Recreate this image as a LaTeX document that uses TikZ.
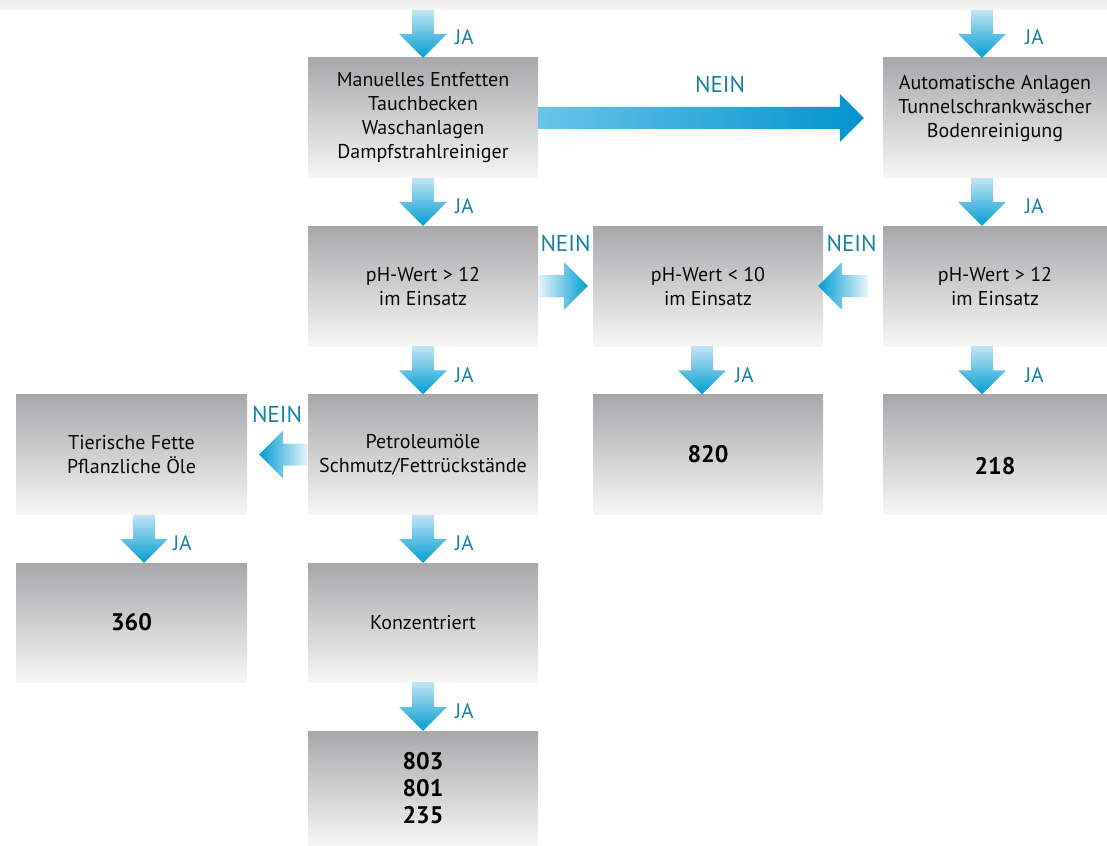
\documentclass[tikz,border=0pt]{standalone}
\usepackage{fontspec}
\setmainfont{PT Sans}
\usetikzlibrary{calc}
\definecolor{boxtop}{RGB}{168,168,171}
\definecolor{boxbot}{RGB}{246,246,246}
\definecolor{labcol}{RGB}{22,128,162}
\definecolor{arrblue}{RGB}{0,157,210}
\definecolor{arrmid}{RGB}{70,185,228}
\definecolor{arrtail}{RGB}{232,245,251}
\definecolor{arrtop}{RGB}{195,228,245}
\definecolor{bigleft}{RGB}{105,196,232}
\definecolor{bigright}{RGB}{0,148,204}
\definecolor{bandtop}{RGB}{238,238,238}
\definecolor{bandbot}{RGB}{247,247,247}
\definecolor{txt}{RGB}{10,10,10}
\tikzset{
  box/.style={rectangle, inner sep=0pt, minimum width=230pt, minimum height=120pt,
    top color=boxtop, bottom color=boxbot, align=center, text=txt,
    font=\fontsize{20}{24}\selectfont},
  numbox/.style={font=\bfseries\fontsize{24}{27}\selectfont, text=black},
  jalab/.style={text=labcol, font=\fontsize{21}{21}\selectfont, inner sep=0pt, anchor=base west},
  neinlab/.style={text=labcol, font=\fontsize{23}{23}\selectfont, inner sep=0pt, anchor=base},
  darr/.style={top color=arrtop, middle color=arrmid, bottom color=arrblue},
  rarr/.style={left color=arrtail, middle color=arrmid, right color=arrblue},
  larr/.style={right color=arrtail, middle color=arrmid, left color=arrblue},
  bigarr/.style={left color=bigleft, right color=bigright}
}
\newcommand\myDArrow[3]{\shade[#3] let \p1=(#1), \p2=(#2) in
  (\x1-11pt,\y1) -- (\x1+11pt,\y1) -- (\x1+11pt,\y2+24pt) -- (\x1+24pt,\y2+24pt)
  -- (\x1,\y2) -- (\x1-24pt,\y2+24pt) -- (\x1-11pt,\y2+24pt) -- cycle;}
\newcommand\myRArrow[3]{\shade[#3] let \p1=(#1), \p2=(#2) in
  (\x1,\y1+11pt) -- (\x2-24pt,\y1+11pt) -- (\x2-24pt,\y1+24pt) -- (\x2,\y1)
  -- (\x2-24pt,\y1-24pt) -- (\x2-24pt,\y1-11pt) -- (\x1,\y1-11pt) -- cycle;}
\newcommand\myLArrow[3]{\shade[#3] let \p1=(#1), \p2=(#2) in
  (\x1,\y1+11pt) -- (\x2+24pt,\y1+11pt) -- (\x2+24pt,\y1+24pt) -- (\x2,\y1)
  -- (\x2+24pt,\y1-24pt) -- (\x2+24pt,\y1-11pt) -- (\x1,\y1-11pt) -- cycle;}
\begin{document}
\begin{tikzpicture}[x=1pt,y=-1pt]
\useasboundingbox (0,0) rectangle (1107,845);
\shade[top color=bandtop, bottom color=bandbot] (0,0) rectangle (1107,10);

% boxes
\node[box] (man) at (423,118) {Manuelles Entfetten\\Tauchbecken\\Waschanlagen\\Dampfstrahlreiniger};
\node[box, minimum width=224pt] (aut) at (995,118) {Automatische Anlagen\\Tunnelschrankwäscher\\Bodenreinigung\\\mbox{}};
\node[box] (ph1) at (423,286) {pH-Wert > 12\\im Einsatz};
\node[box] (ph2) at (708,286) {pH-Wert < 10\\im Einsatz};
\node[box, minimum width=224pt] (ph3) at (995,286) {pH-Wert > 12\\im Einsatz};
\node[box, minimum width=231pt] (tie) at (131.5,454.5) {Tierische Fette\\Pflanzliche Öle};
\node[box] (pet) at (423,454.5) {Petroleumöle\\Schmutz/Fettrückstände};
\node[box, numbox] (n820) at (708,454.5) {820};
\node[box, numbox, minimum width=224pt] (n218) at (995,454.5) {\mbox{}\\[14pt]218};
\node[box, numbox, minimum width=231pt, minimum height=119pt] (n360) at (131.5,622.5) {360};
\node[box, minimum height=119pt] (kon) at (423,622.5) {Konzentriert};
\node[box, numbox, minimum height=114pt] (n803) at (423,788) {803\\801\\235};

% free ends
\coordinate (s1) at (423,10);
\coordinate (s3) at (982,10);

% down arrows (JA)
\myDArrow{s1}{man.north}{darr}
\myDArrow{s3}{$(aut.north)+(-13,0)$}{darr}
\myDArrow{man.south}{ph1.north}{darr}
\myDArrow{$(aut.south)+(-13,0)$}{$(ph3.north)+(-13,0)$}{darr}
\myDArrow{ph1.south}{pet.north}{darr}
\myDArrow{$(ph2.south)+(-6,0)$}{$(n820.north)+(-6,0)$}{darr}
\myDArrow{$(ph3.south)+(-13,0)$}{$(n218.north)+(-13,0)$}{darr}
\myDArrow{pet.south}{kon.north}{darr}
\myDArrow{$(tie.south)+(12.5,0)$}{$(n360.north)+(12.5,0)$}{darr}
\myDArrow{kon.south}{n803.north}{darr}

% horizontal arrows (NEIN)
\myRArrow{man.east}{$(aut.west)+(-19,0)$}{bigarr}
\myRArrow{ph1.east}{$(ph2.west)+(-5,0)$}{rarr}
\myLArrow{$(ph3.west)+(-15,0)$}{$(ph2.east)+(-5,0)$}{larr}
\myLArrow{pet.west}{$(tie.east)+(12,0)$}{larr}

% labels
\node[jalab] (ja1) at (455,45) {JA};
\node[jalab] (ja2) at (1025,45) {JA};
\node[jalab] (ja3) at (455,213) {JA};
\node[jalab] (ja4) at (1025,213) {JA};
\node[jalab] (ja5) at (455,382) {JA};
\node[jalab] (ja6) at (735,382) {JA};
\node[jalab] (ja7) at (1025,382) {JA};
\node[jalab] (ja8) at (173,550) {JA};
\node[jalab] (ja9) at (455,550) {JA};
\node[jalab] (ja10) at (455,718) {JA};
\node[neinlab] (nein1) at (720,93) {NEIN};
\node[neinlab] (nein2) at (565.5,251) {NEIN};
\node[neinlab] (nein3) at (851.5,251) {NEIN};
\node[neinlab] (nein4) at (277,422) {NEIN};
\end{tikzpicture}
\end{document}
